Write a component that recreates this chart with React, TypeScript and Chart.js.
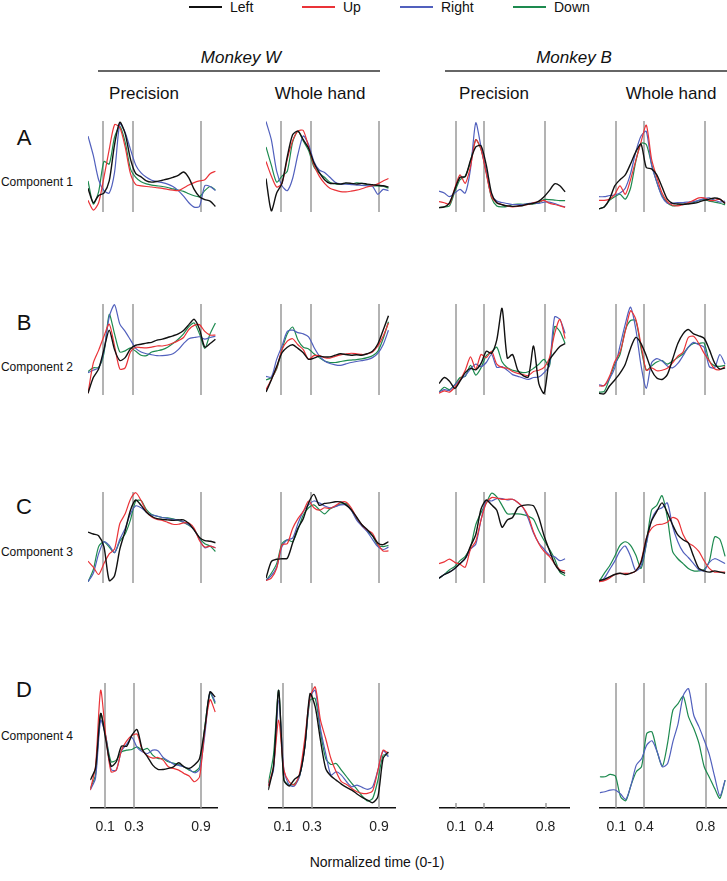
import React, { useEffect, useRef } from "react";
import { Chart, registerables } from "chart.js";

Chart.register(...registerables);

const FONT = "'Liberation Sans', Arial, Helvetica, sans-serif";

const SERIES_NAMES = ["Left", "Up", "Right", "Down"];
const SERIES_COLORS = ["#111111", "#ea3338", "#5160bd", "#1d8a4f"];

// phase markers (position along the warped, normalized time axis, 0..100) and their labels
const TICK_POS_W = [11.7, 34.3, 86.9];
const TICK_LABELS_W = ["0.1", "0.3", "0.9"];
const TICK_POS_B = [12.8, 34.4, 81.9];
const TICK_LABELS_B = ["0.1", "0.4", "0.8"];

const COMPONENTS = ["Component 1", "Component 2", "Component 3", "Component 4"];
const ROW_LETTERS = ["A", "B", "C", "D"];
const CONDITIONS = ["Precision", "Whole hand", "Precision", "Whole hand"];
const MONKEYS = ["Monkey W", "Monkey B"];

// ---------- Row A: Component 1 ----------
const A1_left = [65,5,35,45,95,245,337,290,185,125,112,95,90,93,98,103,110,118,132,108,60,30,18,12,-10];
const A1_up = [15,-25,5,110,225,327,315,235,125,80,75,72,70,67,64,60,57,55,66,78,88,95,100,125,135];
const A1_right = [280,200,100,55,45,130,330,295,225,160,128,110,98,92,88,82,72,55,32,5,-13,-10,75,72,55];
const A1_down = [95,0,50,175,165,275,320,255,145,110,92,83,78,75,72,68,62,57,52,42,34,30,55,72,58];

const A2_left = [105,-28,45,85,195,285,300,265,230,170,130,100,85,85,82,87,85,82,85,82,80,77,75,70];
const A2_up = [175,115,70,85,185,260,300,303,235,160,115,85,65,57,51,50,53,57,63,70,75,83,95,105];
const A2_right = [340,265,135,75,55,105,205,280,245,175,140,130,110,90,83,82,80,78,77,75,73,40,60,55];
const A2_down = [235,160,90,115,135,255,300,260,220,153,127,110,90,83,82,85,82,87,85,80,75,75,73,65];

const A3_left = [-15,-12,5,60,110,113,180,235,240,160,45,5,-3,-8,-10,-8,-6,0,3,12,30,55,83,75,50];
const A3_up = [10,5,0,65,120,85,155,265,225,125,30,5,-2,-8,-12,-10,-6,-2,5,10,15,3,-2,-8,-14];
const A3_right = [53,45,30,45,60,45,145,335,235,135,35,12,6,2,-2,-2,-2,2,5,2,8,8,2,-6,-12];
const A3_down = [-15,-12,-8,50,100,115,175,265,225,130,25,-8,-12,-10,-2,0,-1,0,0,5,18,18,16,14,14];

const A4_left = [-20,-12,20,75,100,120,165,215,247,150,145,120,70,20,3,0,-2,0,3,8,15,20,25,20,2];
const A4_up = [15,15,20,40,75,40,100,180,255,325,185,110,45,10,-5,-8,-2,5,15,25,25,15,15,20,3];
const A4_right = [30,30,35,37,45,65,125,215,280,300,160,90,30,3,3,6,6,8,10,15,22,25,15,8,12];
const A4_down = [-20,-12,15,30,40,20,65,175,250,245,165,90,35,5,-8,-5,0,3,5,15,18,12,8,3,-3];

// ---------- Row B: Component 2 ----------
const B1_left = [-20,45,80,160,240,160,115,127,163,178,182,187,190,199,203,210,217,225,239,263,285,245,170,185,203];
const B1_up = [-20,105,157,215,265,175,80,85,150,170,168,167,170,175,175,179,187,197,210,243,260,263,235,220,220];
const B1_right = [65,75,85,155,295,345,265,235,200,165,150,143,139,135,135,137,143,160,185,205,210,213,203,210,215];
const B1_down = [70,85,87,145,305,225,150,155,167,153,137,135,150,155,160,170,185,203,225,255,270,225,165,225,270];

const B2_left = [-15,35,90,147,170,180,165,147,120,125,133,130,130,137,143,140,137,139,137,143,153,183,240,300];
const B2_up = [-5,37,85,160,195,205,180,160,120,135,135,127,125,132,138,142,145,143,140,142,150,175,215,270];
const B2_right = [50,47,120,175,235,240,230,225,213,170,135,113,103,97,95,101,107,111,115,119,127,145,180,240];
const B2_down = [35,45,80,160,225,253,200,170,163,143,127,113,107,107,111,115,117,119,122,127,135,153,205,275];

const B3_left = [20,45,30,0,30,65,83,77,103,153,145,200,330,125,140,75,53,47,175,20,-20,115,147,173,185];
const B3_up = [-20,-10,-15,5,35,75,130,80,140,127,153,100,87,83,70,62,57,53,70,75,87,125,225,285,205];
const B3_right = [-15,-5,-8,15,35,53,80,100,90,107,140,87,90,75,57,50,43,37,45,47,65,95,295,285,227];
const B3_down = [-15,5,-5,15,45,50,95,55,85,135,150,170,110,85,75,70,65,69,83,100,120,90,255,235,185];

const B4_left = [-20,-22,10,35,63,100,165,210,185,135,75,43,37,57,120,185,225,243,225,217,207,160,105,80,85];
const B4_up = [10,12,50,110,150,235,320,285,180,75,85,73,75,83,105,133,150,210,215,185,145,113,81,77,90];
const B4_right = [15,12,40,85,175,265,335,245,95,0,105,123,113,93,85,103,135,170,190,180,170,90,85,140,100];
const B4_down = [-15,-12,40,100,140,240,280,280,165,75,93,109,115,100,113,127,143,170,185,185,187,113,93,91,95];

// ---------- Row C: Component 3 ----------
const C1_left = [160,152,145,100,-40,-20,90,165,250,292,270,242,225,215,212,210,208,210,210,195,168,138,125,122,116];
const C1_up = [40,15,-15,30,70,90,195,235,295,322,290,245,222,212,208,200,192,192,198,197,175,125,98,102,95];
const C1_right = [-45,-10,70,120,105,75,130,175,235,268,260,242,230,226,220,216,212,210,202,190,170,130,95,102,95];
const C1_down = [-45,5,100,120,98,75,122,152,210,288,290,252,232,225,220,218,214,208,200,188,170,135,112,102,80];

const C2_left = [-30,38,48,50,52,115,175,215,280,315,270,278,280,285,284,272,252,222,190,170,145,115,108,120];
const C2_up = [-40,-30,10,108,112,175,215,245,288,260,250,260,257,268,282,284,260,220,190,168,155,110,82,82];
const C2_right = [-40,-20,15,100,128,135,195,245,272,288,280,268,260,265,272,272,250,210,185,162,130,100,88,98];
const C2_down = [-40,-10,30,112,128,120,170,230,260,272,252,235,255,265,275,278,252,215,190,165,145,105,100,105];

const C3_left = [-30,-15,-5,10,30,52,102,150,255,292,272,250,180,210,220,260,270,272,268,220,145,85,30,0,-10];
const C3_up = [30,37,48,35,27,15,90,122,210,280,302,300,295,295,295,282,262,225,160,112,80,60,30,5,0];
const C3_right = [-30,-15,-5,10,30,50,90,110,210,290,288,298,298,292,295,282,260,215,155,115,90,65,58,42,50];
const C3_down = [-30,-15,5,18,42,60,98,190,240,280,320,305,270,235,235,235,232,225,212,165,125,90,50,-5,-20];

const C4_left = [-40,-35,-25,-15,-10,-15,-10,0,35,130,205,245,280,240,190,148,128,115,60,10,0,-5,0,-5,-10];
const C4_up = [-45,-40,-30,-15,-10,-10,-10,0,40,135,175,190,192,200,220,210,150,115,102,80,42,10,-5,-5,-5];
const C4_right = [-45,-30,5,40,82,102,60,0,20,110,210,250,260,280,185,120,78,55,30,5,0,35,50,42,30];
const C4_down = [-45,-10,20,60,105,120,105,65,10,110,250,270,310,220,80,50,30,10,0,0,5,40,140,130,60];

// ---------- Row D: Component 4 ----------
const D1_left = [84,119,284,204,126,139,186,186,219,236,176,154,129,116,116,119,124,136,124,119,129,149,239,349,334];
const D1_up = [54,124,354,214,109,114,174,202,218,222,174,157,150,152,144,124,119,114,104,96,79,94,234,326,289];
const D1_right = [54,89,264,214,116,114,172,192,212,182,169,164,174,172,152,142,132,128,124,117,106,116,219,349,319];
const D1_down = [59,99,284,214,139,144,169,174,176,184,174,179,159,149,148,139,135,131,124,114,109,124,244,346,314];

const D2_left = [54,124,354,84,66,86,99,184,344,304,204,119,96,84,72,62,54,42,32,24,16,34,149,169];
const D2_up = [66,124,264,114,79,69,104,209,334,364,264,209,149,109,79,71,59,49,44,44,52,114,174,164];
const D2_right = [69,114,324,114,69,66,96,184,334,354,239,164,99,109,99,79,64,69,62,56,64,114,172,154];
const D2_down = [74,159,354,84,69,72,96,184,324,329,229,149,131,134,114,94,74,56,36,21,29,84,159,159];

const D4_right = [46,49,54,54,42,26,69,129,148,189,202,169,124,134,199,254,339,359,279,244,204,159,94,36,84];
const D4_down = [94,94,101,96,34,22,69,109,124,224,229,169,126,196,294,314,336,274,239,194,124,92,59,29,84];

// value range of each row (bottom, top of the phase lines)
const ROW_MIN = [-33, -27, -50, 0];
const ROW_MAX = [342, 348, 325, 376];
// sampled time span (axis units) of each column
const COL_SPAN: [number, number][] = [[0, 98], [0, 94.2], [0, 97], [0, 97]];

type Series = number[] | null;
const PANELS: { row: number; col: number; data: Series[] | null }[] = [
  { row: 0, col: 0, data: [A1_left, A1_up, A1_right, A1_down] },
  { row: 0, col: 1, data: [A2_left, A2_up, A2_right, A2_down] },
  { row: 0, col: 2, data: [A3_left, A3_up, A3_right, A3_down] },
  { row: 0, col: 3, data: [A4_left, A4_up, A4_right, A4_down] },
  { row: 1, col: 0, data: [B1_left, B1_up, B1_right, B1_down] },
  { row: 1, col: 1, data: [B2_left, B2_up, B2_right, B2_down] },
  { row: 1, col: 2, data: [B3_left, B3_up, B3_right, B3_down] },
  { row: 1, col: 3, data: [B4_left, B4_up, B4_right, B4_down] },
  { row: 2, col: 0, data: [C1_left, C1_up, C1_right, C1_down] },
  { row: 2, col: 1, data: [C2_left, C2_up, C2_right, C2_down] },
  { row: 2, col: 2, data: [C3_left, C3_up, C3_right, C3_down] },
  { row: 2, col: 3, data: [C4_left, C4_up, C4_right, C4_down] },
  { row: 3, col: 0, data: [D1_left, D1_up, D1_right, D1_down] },
  { row: 3, col: 1, data: [D2_left, D2_up, D2_right, D2_down] },
  { row: 3, col: 2, data: null },
  { row: 3, col: 3, data: [null, null, D4_right, D4_down] },
];

// ---------- layout ----------
const COL_LEFT = [88, 266, 439, 599];
const AXIS_W = 130;
const ROW_TOP = [121, 304, 492, 683];
const ROW_H = 125;
const PAD = 4;
const AXIS_H = 34;

const phasePlugin = {
  id: "phase",
  beforeDatasetsDraw(chart: any, _args: any, opts: any) {
    const { ctx, chartArea, scales } = chart;
    ctx.save();
    ctx.strokeStyle = "#9a9a9a";
    ctx.lineWidth = 1.5;
    for (const v of opts.positions as number[]) {
      const x = Math.round(scales.x.getPixelForValue(v));
      ctx.beginPath();
      ctx.moveTo(x, opts.short ? chartArea.bottom - 5 : chartArea.top);
      ctx.lineTo(x, chartArea.bottom);
      ctx.stroke();
    }
    ctx.restore();
  },
};

function Panel({ row, col, data }: { row: number; col: number; data: Series[] | null }) {
  const ref = useRef<HTMLCanvasElement>(null);
  const isBottom = row === 3;
  const width = AXIS_W + 2 * PAD;
  const height = isBottom ? PAD + ROW_H + AXIS_H : ROW_H + 2 * PAD;

  useEffect(() => {
    const pos = col < 2 ? TICK_POS_W : TICK_POS_B;
    const labels = col < 2 ? TICK_LABELS_W : TICK_LABELS_B;
    const [x0, x1] = COL_SPAN[col];
    const datasets: any[] = [];
    (data || []).forEach((vals, i) => {
      if (!vals) return;
      const n = vals.length;
      datasets.push({
        label: SERIES_NAMES[i],
        data: vals.map((y, j) => ({ x: x0 + ((x1 - x0) * j) / (n - 1), y })),
        borderColor: SERIES_COLORS[i],
        borderWidth: i === 0 ? 1.4 : 1.2,
        pointRadius: 0,
        tension: 0.25,
        fill: false,
      });
    });
    const chart = new Chart(ref.current as HTMLCanvasElement, {
      type: "line",
      data: { datasets },
      plugins: [phasePlugin as any],
      options: {
        animation: false,
        responsive: false,
        events: [],
        layout: { padding: { left: PAD, right: PAD, top: PAD, bottom: isBottom ? 0 : PAD } },
        plugins: {
          legend: { display: false },
          tooltip: { enabled: false },
          phase: { positions: pos, short: !data },
        } as any,
        scales: {
          x: {
            type: "linear",
            min: 0,
            max: 100,
            display: isBottom,
            grid: { display: false, drawTicks: false },
            border: { display: true, color: "#111", width: 1.5 },
            ticks: {
              autoSkip: false,
              maxRotation: 0,
              padding: 11,
              color: "#222",
              font: { family: FONT, size: 14 },
              callback: (_v: any, i: number) => labels[i],
            },
            afterBuildTicks: (s: any) => {
              s.ticks = pos.map((v) => ({ value: v }));
            },
            afterFit: (s: any) => {
              s.height = AXIS_H;
            },
          },
          y: { min: ROW_MIN[row], max: ROW_MAX[row], display: false },
        },
      } as any,
    });
    return () => chart.destroy();
  }, []);

  return (
    <canvas
      ref={ref}
      width={width}
      height={height}
      style={{ position: "absolute", left: COL_LEFT[col] - PAD, top: ROW_TOP[row] - PAD, width, height }}
    />
  );
}

function Txt({ x, y, size, children, italic, anchor = "center" }: any) {
  return (
    <div
      style={{
        position: "absolute",
        left: x,
        top: y,
        transform: anchor === "center" ? "translate(-50%,-50%)" : anchor === "right" ? "translate(-100%,-50%)" : "translate(0,-50%)",
        fontSize: size,
        fontStyle: italic ? "italic" : "normal",
        whiteSpace: "nowrap",
        lineHeight: 1.15,
        color: "#111",
        fontFamily: FONT,
      }}
    >
      {children}
    </div>
  );
}

const LEGEND_X = [189, 302, 400, 513];

export default function App() {
  return (
    <div style={{ position: "fixed", left: 0, top: 0, width: 727, height: 881, background: "#fff", overflow: "hidden", fontFamily: FONT }}>
      {/* legend */}
      {SERIES_NAMES.map((n, i) => (
        <React.Fragment key={n}>
          <div style={{ position: "absolute", left: LEGEND_X[i], top: 6, width: 33, height: 2, background: SERIES_COLORS[i] }} />
          <Txt x={LEGEND_X[i] + 41} y={7} size={14} anchor="left">{n}</Txt>
        </React.Fragment>
      ))}
      {/* monkey headers */}
      <Txt x={241} y={58} size={17} italic>{MONKEYS[0]}</Txt>
      <div style={{ position: "absolute", left: 98, top: 70, width: 282, height: 1.5, background: "#666" }} />
      <Txt x={574} y={58} size={17} italic>{MONKEYS[1]}</Txt>
      <div style={{ position: "absolute", left: 445, top: 70, width: 282, height: 1.5, background: "#666" }} />
      {CONDITIONS.map((c, i) => (
        <Txt key={i} x={[144, 320, 494, 671][i]} y={94} size={17}>{c}</Txt>
      ))}
      {ROW_LETTERS.map((l, i) => (
        <Txt key={l} x={24} y={[138, 323, 507, 690][i]} size={22}>{l}</Txt>
      ))}
      {COMPONENTS.map((c, i) => (
        <Txt key={c} x={73} y={[183, 368, 553, 737][i]} size={12} anchor="right">{c}</Txt>
      ))}
      {PANELS.map((p) => (
        <Panel key={`${p.row}-${p.col}`} row={p.row} col={p.col} data={p.data} />
      ))}
      <Txt x={377} y={862} size={14}>Normalized time (0-1)</Txt>
    </div>
  );
}
